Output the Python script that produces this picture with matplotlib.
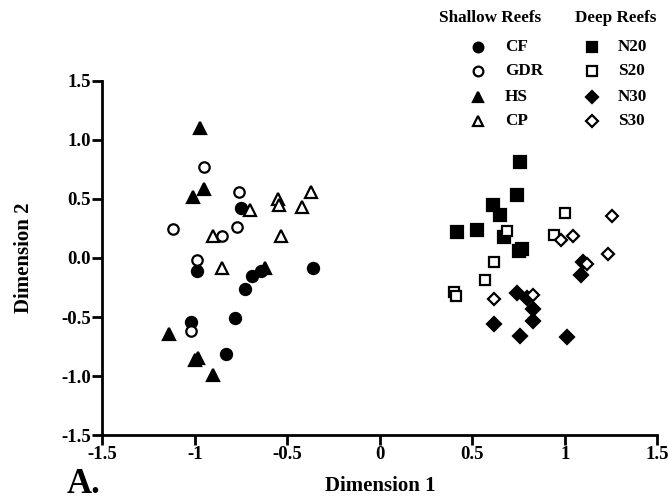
import matplotlib.pyplot as plt
from matplotlib.lines import Line2D

plt.rcParams['font.family'] = 'Liberation Serif'
plt.rcParams['font.weight'] = 'bold'

# shallow reefs
cf_x = [-0.75, -0.99, -0.69, -0.36, -0.73, -0.78, -1.02, -0.83, -0.64]
cf_y = [0.42, -0.11, -0.15, -0.085, -0.26, -0.51, -0.54, -0.81, -0.11]
gdr_x = [-0.95, -0.76, -1.12, -0.85, -0.77, -0.99, -1.02]
gdr_y = [0.77, 0.56, 0.245, 0.19, 0.26, -0.02, -0.62]
hs_x = [-0.97, -0.95, -1.01, -0.62, -1.14, -1.00, -0.98, -0.90]
hs_y = [1.10, 0.58, 0.52, -0.085, -0.64, -0.86, -0.85, -0.99]
cp_x = [-0.70, -0.55, -0.545, -0.42, -0.37, -0.90, -0.535, -0.85]
cp_y = [0.41, 0.50, 0.45, 0.43, 0.56, 0.19, 0.185, -0.085]

# deep reefs
n20_x = [0.76, 0.74, 0.61, 0.65, 0.42, 0.525, 0.67, 0.75, 0.77]
n20_y = [0.81, 0.53, 0.45, 0.36, 0.22, 0.24, 0.18, 0.06, 0.08]
s20_x = [1.00, 0.94, 0.69, 0.62, 0.57, 0.40, 0.41]
s20_y = [0.38, 0.195, 0.23, -0.03, -0.19, -0.29, -0.32]
n30_x = [1.09, 0.74, 0.795, 0.83, 0.83, 0.62, 0.76, 1.01, 1.10]
n30_y = [-0.145, -0.30, -0.34, -0.43, -0.53, -0.56, -0.66, -0.67, -0.03]
s30_x = [1.255, 1.045, 0.98, 1.12, 1.235, 0.62, 0.83]
s30_y = [0.355, 0.185, 0.15, -0.05, 0.03, -0.35, -0.31]

xticks = [-1.5, -1, -0.5, 0, 0.5, 1, 1.5]
xtick_labels = ['-1.5', '-1', '-0.5', '0', '0.5', '1', '1.5']
yticks = [-1.5, -1.0, -0.5, 0.0, 0.5, 1.0, 1.5]
ytick_labels = ['-1.5', '-1.0', '-0.5', '0.0', '0.5', '1.0', '1.5']

fig = plt.figure(figsize=(6.68, 4.99), dpi=100)
ax = fig.add_axes([0.153, 0.128, 0.831, 0.71])

series = [
    (cf_x, cf_y, 'o', True, 8),
    (gdr_x, gdr_y, 'o', False, 7.5),
    (hs_x, hs_y, '^', True, 8.5),
    (cp_x, cp_y, '^', False, 8),
    (n20_x, n20_y, 's', True, 8),
    (s20_x, s20_y, 's', False, 7.5),
    (n30_x, n30_y, 'D', True, 7),
    (s30_x, s30_y, 'D', False, 6.5),
]
for xs, ys, m, filled, ms in series:
    ax.plot(xs, ys, linestyle='none', marker=m, markersize=ms,
            markerfacecolor='black' if filled else 'white',
            markeredgecolor='black', markeredgewidth=1.6)

ax.set_xlim(-1.5, 1.5)
ax.set_ylim(-1.5, 1.5)
ax.set_xticks(xticks)
ax.set_xticklabels(xtick_labels)
ax.set_yticks(yticks)
ax.set_yticklabels(ytick_labels)
ax.tick_params(direction='out', length=7, width=2, labelsize=13.5, pad=1)
for s in ['top', 'right']:
    ax.spines[s].set_visible(False)
for s in ['left', 'bottom']:
    ax.spines[s].set_linewidth(2)
ax.set_xlabel('Dimension 1', fontsize=15, fontweight='bold', labelpad=9)
ax.set_ylabel('Dimension 2', fontsize=15, fontweight='bold', labelpad=20)
fig.text(0.1, 0.03, 'A.', fontsize=25, fontweight='bold', ha='left', va='center')

# legend drawn by hand
fig.text(0.733, 0.963, 'Shallow Reefs', fontsize=12.3, fontweight='bold', ha='center', va='center')
fig.text(0.921, 0.963, 'Deep Reefs', fontsize=12.3, fontweight='bold', ha='center', va='center')
rows = [0.905, 0.857, 0.806, 0.757]
left = [('o', True, 'CF'), ('o', False, 'GDR'), ('^', True, 'HS'), ('^', False, 'CP')]
right = [('s', True, 'N20'), ('s', False, 'S20'), ('D', True, 'N30'), ('D', False, 'S30')]
for col, mx, tx in [(left, 0.716, 0.756), (right, 0.886, 0.925)]:
    for (m, filled, lab), yy in zip(col, rows):
        fig.add_artist(Line2D([mx], [yy], transform=fig.transFigure, linestyle='none',
                              marker=m, markersize=7 if m != 'D' else 6,
                              markerfacecolor='black' if filled else 'white',
                              markeredgecolor='black', markeredgewidth=1.6))
        fig.text(tx, yy, lab, fontsize=12.3, fontweight='bold', ha='left', va='center')

fig.savefig('out.png', dpi=100)
